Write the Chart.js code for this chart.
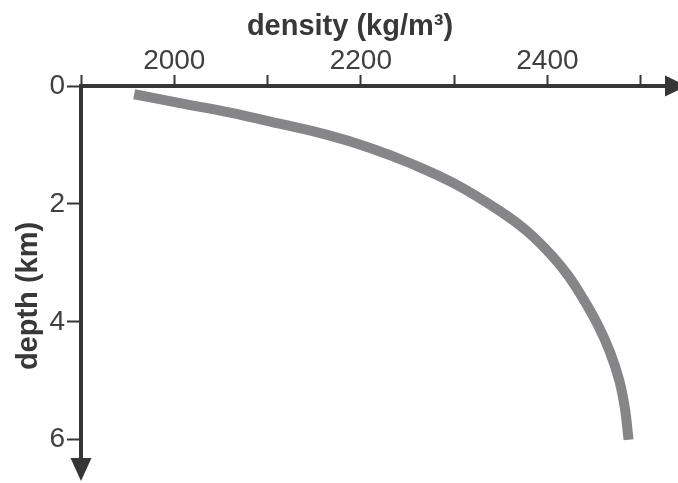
<!DOCTYPE html>
<html>
<head>
<meta charset="utf-8">
<title>density vs depth</title>
<script src="https://cdn.jsdelivr.net/npm/chart.js@4/dist/chart.umd.min.js"></script>
<style>
  html, body { margin: 0; padding: 0; background: #fff; }
  canvas { display: block; }
</style>
</head>
<body>
<canvas id="grafico" width="678" height="483"></canvas>
<script>
// curve read along the profile: density (kg/m3) against depth (km)
const density = [1957, 2006, 2060, 2113, 2164, 2210, 2253, 2301, 2349, 2378, 2405, 2422, 2438, 2454, 2467, 2477, 2483, 2487];
const depth   = [0.14, 0.29, 0.45, 0.64, 0.83, 1.05, 1.31, 1.66, 2.12, 2.46, 2.88, 3.21, 3.60, 4.05, 4.51, 4.99, 5.46, 6.0];

// axis ticks
const densityTicks  = [1900, 2000, 2100, 2200, 2300, 2400, 2500];
const densityLabels = ['', '2000', '', '2200', '', '2400', ''];
const depthTicks  = [0, 2, 4, 6];
const depthLabels = ['0', '2', '4', '6'];

const titleX = 'density (kg/m\u00B3)';
const titleY = 'depth (km)';

const INK = '#363636';
const LABEL = '#404040';

// draws both axis lines with arrow heads plus the two titles
const axesPlugin = {
    id: 'ejes',
    afterDraw(chart) {
        const ctx = chart.ctx;
        const a = chart.chartArea;
        ctx.save();
        ctx.strokeStyle = INK;
        ctx.fillStyle = INK;
        ctx.lineWidth = 4;

        // horizontal axis (top)
        ctx.beginPath();
        ctx.moveTo(a.left - 2, a.top);
        ctx.lineTo(a.right - 12, a.top);
        ctx.stroke();
        ctx.beginPath();
        ctx.moveTo(a.right - 13, a.top - 10.5);
        ctx.lineTo(a.right + 9, a.top);
        ctx.lineTo(a.right - 13, a.top + 10.5);
        ctx.closePath();
        ctx.fill();

        // vertical axis (left)
        ctx.beginPath();
        ctx.moveTo(a.left, a.top - 2);
        ctx.lineTo(a.left, a.bottom - 22);
        ctx.stroke();
        ctx.beginPath();
        ctx.moveTo(a.left - 10.5, a.bottom - 23);
        ctx.lineTo(a.left, a.bottom);
        ctx.lineTo(a.left + 10.5, a.bottom - 23);
        ctx.closePath();
        ctx.fill();

        // titles
        ctx.fillStyle = '#383838';
        ctx.font = 'bold 29px "Liberation Sans", Arial, sans-serif';
        ctx.textAlign = 'center';
        ctx.textBaseline = 'alphabetic';
        ctx.fillText(titleX, 350, 35);

        ctx.translate(28.5, 296);
        ctx.rotate(-Math.PI / 2);
        ctx.textBaseline = 'middle';
        ctx.fillText(titleY, 0, 0);
        ctx.restore();
    }
};

const puntos = density.map((d, i) => ({ x: d, y: depth[i] }));

new Chart(document.getElementById('grafico'), {
    type: 'line',
    data: {
        datasets: [{
            data: puntos,
            borderColor: '#868688',
            borderWidth: 10,
            borderCapStyle: 'butt',
            borderJoinStyle: 'round',
            pointRadius: 0,
            fill: false,
            tension: 0.4
        }]
    },
    options: {
        responsive: false,
        animation: false,
        devicePixelRatio: 1,
        layout: { padding: { left: 0, top: 0, right: 0, bottom: 2 } },
        plugins: {
            legend: { display: false },
            tooltip: { enabled: false }
        },
        scales: {
            x: {
                type: 'linear',
                position: 'top',
                min: 1900,
                max: 2540,
                afterBuildTicks: s => { s.ticks = densityTicks.map(v => ({ value: v })); },
                afterFit: s => { s.height = 86; s.paddingLeft = 0; s.paddingRight = 0; },
                border: { display: false },
                grid: {
                    drawOnChartArea: false,
                    tickLength: 11,
                    tickColor: INK,
                    tickWidth: 2
                },
                ticks: {
                    autoSkip: false,
                    maxRotation: 0,
                    padding: 0,
                    color: LABEL,
                    font: { family: '"Liberation Sans", Arial, sans-serif', size: 28, lineHeight: 1 },
                    callback: (v, i) => densityLabels[i]
                }
            },
            y: {
                type: 'linear',
                position: 'left',
                reverse: true,
                min: 0,
                max: 6.7,
                afterBuildTicks: s => { s.ticks = depthTicks.map(v => ({ value: v })); },
                afterFit: s => { s.width = 81; s.paddingTop = 0; s.paddingBottom = 0; },
                border: { display: false },
                grid: {
                    drawOnChartArea: false,
                    tickLength: 14,
                    tickColor: INK,
                    tickWidth: 2
                },
                ticks: {
                    autoSkip: false,
                    padding: 2,
                    color: LABEL,
                    font: { family: '"Liberation Sans", Arial, sans-serif', size: 28, lineHeight: 1 },
                    callback: (v, i) => depthLabels[i]
                }
            }
        }
    },
    plugins: [axesPlugin]
});
</script>
</body>
</html>
